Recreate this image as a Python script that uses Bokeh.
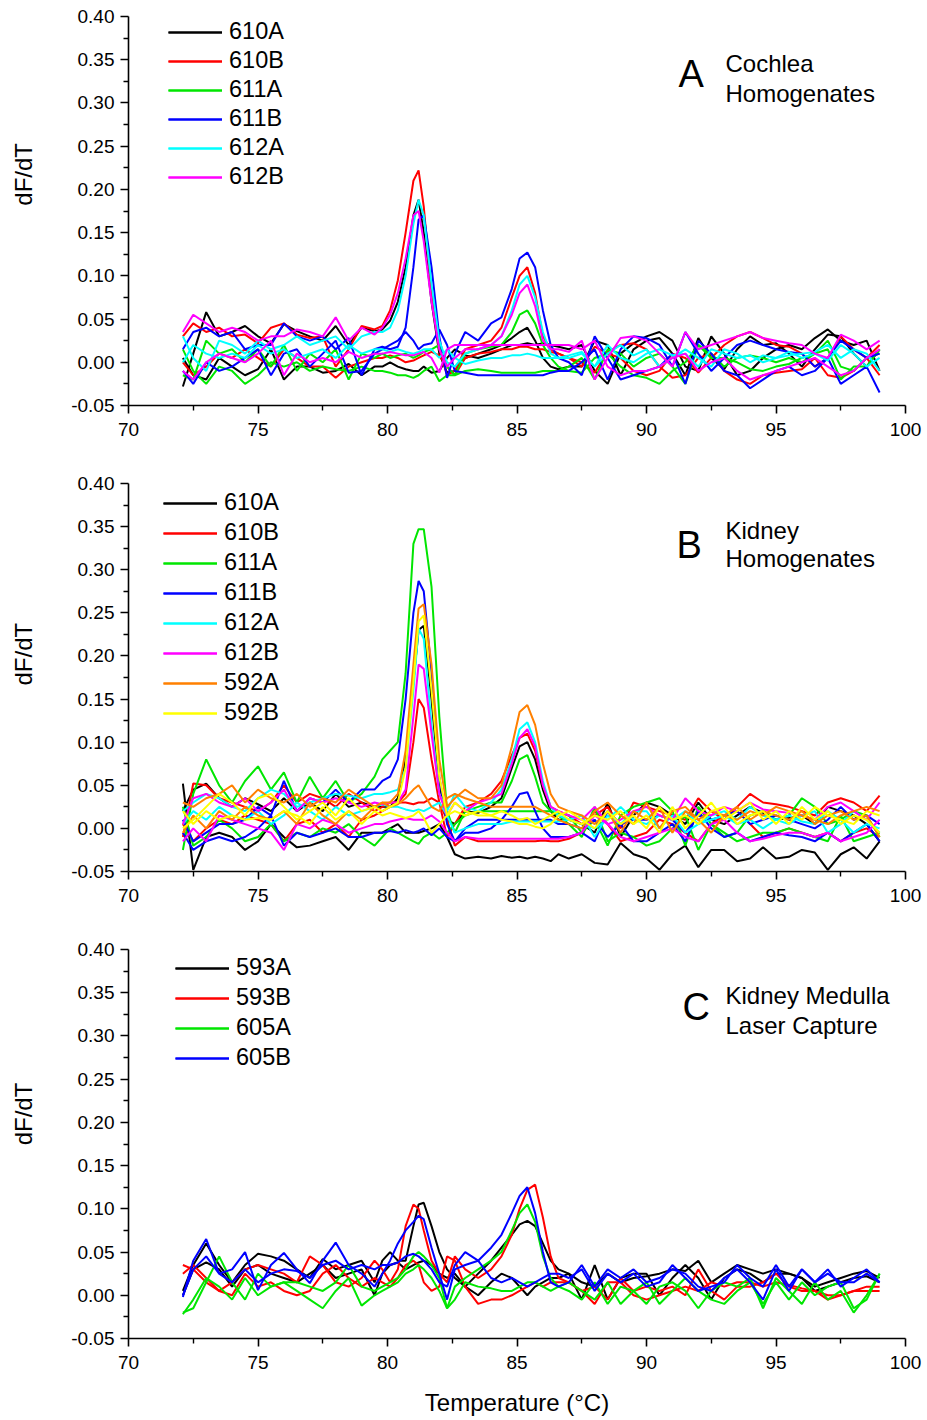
import numpy as np
from bokeh.plotting import figure
from bokeh.models import (FixedTicker, PrintfTickFormatter, Legend, LegendItem,
                          Label, Range1d)
from bokeh.layouts import column
from bokeh.embed import file_html
from bokeh.resources import INLINE

FONT = "Liberation Sans"
NBSP = "\u00a0"

# shared temperature grid (degC)
temperature = [72.1, 72.5, 73.0, 73.5, 74.0, 74.5, 75.0, 75.5, 76.0, 76.5, 77.0, 77.5, 78.0, 78.5, 79.0, 79.5,
               79.8, 80.1, 80.4, 80.7, 81.0, 81.2, 81.4, 81.7, 82.0, 82.3, 82.6, 83.0, 83.5, 84.0, 84.4, 84.8,
               85.1, 85.4, 85.7, 86.0, 86.3, 86.6, 87.0,
               87.5, 88.0, 88.5, 89.0, 89.5, 90.0, 90.5, 91.0, 91.5, 92.0, 92.5, 93.0, 93.5, 94.0, 94.5, 95.0,
               95.5, 96.0, 96.5, 97.0, 97.5, 98.0, 98.5, 99.0]

# dF/dT values, in units of 0.001
# ---------------- Panel A: cochlea homogenates ----------------
A_610A_1 = [-28, 10, 58, 30, 35, 42, 30, 22, 44, 36, 30, 25, 42, 20, 40, 36,
            38, 48, 70, 110, 170, 188, 150, 70, 10, -12, -10, 5, 10, 15, 20, 28, 35, 40, 25, 5, -5, -8, -5,
            -5, 25, 20, -15, 15, 25, 28, 10, -15, 28, 5, -8, 15, 30, 20, 22, 10, -5, 15, 32, 30, 10, -5, 15]
A_610A_2 = [5, -15, -20, 5, -5, -15, -8, 15, -20, -5, -5, -12, -10, -2, -15, -5,
            -5, 0, -5, -8, -10, -10, -5, -12, -10, 5, 15, 8, 5, 10, 15, 20, 20, 22, 20, 22, 20, 18, 15,
            20, -10, -25, 10, 22, 30, 35, 25, -5, -10, 30, 10, -15, -10, 5, 15, 20, 15, 28, 38, 25, 20, 25, -10]
A_610B_1 = [30, 45, 35, 40, 30, 32, 22, 40, 45, 32, 28, 30, -5, 15, 42, 38,
            42, 60, 95, 150, 210, 222, 180, 80, 15, -15, -10, 15, 20, 25, 40, 75, 100, 110, 80, 30, 15, 10, 5,
            -5, 18, 10, 5, -10, -15, -10, 10, 5, -12, 5, 20, 30, 35, 28, 20, 18, 10, -5, 5, 30, 15, 5, 20]
A_610B_2 = [0, -15, -5, 10, 5, 15, 5, -5, 15, 5, -5, -5, -18, -5, 0, 5,
            5, 8, 5, 0, 2, 5, 8, 12, 8, -5, -15, 5, 10, 12, 15, 15, 18, 18, 15, 15, 12, 10, 5,
            0, -12, 12, 20, 22, 15, -5, -18, -15, 5, 10, -10, -20, -25, -15, -12, -10, -8, 5, -15, -18, -10, 5, -15]
A_611A_1 = [-15, -20, 25, 10, 15, 0, 15, -5, 20, -10, 10, 0, 15, -20, 10, 5,
            10, 5, 8, 10, 5, 8, 12, 15, 20, -5, -15, 10, 15, 18, 20, 35, 55, 60, 45, 20, 5, -5, -10,
            -12, 5, 10, -5, -15, -18, -25, -10, 0, 20, 10, -5, 5, 8, 5, 0, 5, 0, 10, 25, -5, -10, 5, 10]
A_611A_2 = [15, -10, -25, -5, -10, -25, -15, 0, -5, 0, -10, -5, -8, -10, -5, -10,
            -10, -12, -15, -15, -18, -15, -10, -5, -22, -15, -15, -10, -8, -10, -12, -12, -12, -12, -12, -10, -10, -10, -5,
            5, -20, 15, 10, -5, 5, 10, -5, -25, 20, 5, 5, 0, -8, -10, -5, -2, 5, 10, 15, -20, -5, -5, 15]
A_611B_1 = [15, 35, 40, 30, 35, 15, 20, 20, 45, 30, 25, 30, 15, 28, -15, 15,
            18, 15, 18, 40, 110, 165, 170, 110, 30, -18, 10, 35, 25, 45, 52, 85, 120, 127, 110, 60, 20, 5, 0,
            -15, 30, 5, -20, -15, -10, -5, 10, -25, 25, 10, -10, -15, -30, -20, -10, -5, -15, -10, 5, -25, -15, -5, -35]
A_611B_2 = [-10, -25, 0, -10, -5, 5, 15, -15, 10, 15, -5, 10, 25, -12, -10, 10,
            15, 20, 25, 35, 25, 15, 20, 22, 38, 20, -10, -12, -15, -15, -15, -15, -15, -15, -15, -15, -12, -10, -10,
            0, 15, -20, 15, 30, 28, 20, -5, 35, 10, -10, 5, 20, 25, 20, 15, 12, 10, -5, 5, 25, 15, 5, 10]
A_612A_1 = [30, 5, -10, 25, 20, 10, 25, 15, 20, 30, 20, 25, 30, 15, 30, 35,
            35, 40, 60, 100, 160, 188, 170, 90, 25, 0, -5, 10, 15, 20, 30, 60, 90, 100, 75, 35, 10, 5, 5,
            10, -5, 20, 5, 0, 10, 15, 8, 10, -5, 15, 10, 5, 8, 0, 5, 8, 10, 12, 20, 5, 15, 10, -10]
A_612A_2 = [0, 20, 10, 5, 10, 5, 20, 10, 15, 5, 10, 15, 5, 20, 10, 15,
            15, 12, 15, 12, 10, 12, 15, 15, 5, 15, 5, -2, 2, 5, 5, 8, 8, 10, 8, 5, 5, 5, 8,
            12, -5, 10, 20, 8, 15, -5, 5, 15, 5, -5, 15, 10, 0, 8, 5, 12, 5, 10, 2, 20, 10, -5, 5]
A_612B_1 = [35, 55, 45, 35, 40, 35, 25, 30, 30, 38, 35, 30, 52, 25, 40, 32,
            40, 55, 80, 120, 170, 175, 140, 70, 15, -5, 5, 15, 15, 20, 30, 55, 80, 90, 65, 25, 15, 15, 12,
            25, -20, 5, 28, 30, 25, 10, -5, 35, 15, 20, 25, 30, 35, 28, 25, 22, 20, 10, 5, 32, 25, 15, 25]
A_612B_2 = [-10, -20, 0, 10, 5, 0, 10, 25, -15, 10, 0, 5, 0, 12, 5, 10,
            10, 12, 10, 8, 8, 10, 12, 5, -12, 15, 20, 20, 20, 20, 20, 20, 20, 20, 20, 20, 20, 20, 20,
            15, 25, -5, -15, -10, -10, -5, 5, 10, -10, 0, 5, -10, -20, -15, -10, -5, 0, 5, -5, -15, -10, 5, 15]

# ---------------- Panel B: kidney homogenates ----------------
B_610A_1 = [20, 45, 52, 35, 25, 35, 28, 20, 35, 20, 30, 20, 40, 25, 30, 25,
            25, 25, 35, 80, 170, 230, 235, 150, 50, 10, 5, 20, 18, 25, 35, 70, 95, 100, 80, 45, 20, 10, 10,
            5, -5, 30, -10, 15, 30, 25, 15, 5, 30, 10, 5, 15, 25, 18, 10, 12, 15, 5, 25, 20, 15, 5, -15]
B_610A_2 = [52, -48, -10, -5, -10, -25, -15, 5, -10, -22, -20, -15, -10, -25, -5, -5,
            -5, 0, 5, -5, -5, -5, -3, 0, 5, -10, -30, -35, -33, -35, -32, -34, -33, -35, -33, -35, -38, -30, -35,
            -30, -40, -42, -17, -30, -35, -48, -30, -20, -45, -25, -25, -38, -35, -22, -35, -33, -25, -28, -48, -30, -22, -35, -15]
B_610B_1 = [-10, 52, 50, 35, 30, 25, 20, 30, 50, 30, 40, 35, 25, 40, 30, 20,
            25, 30, 30, 40, 100, 150, 140, 80, 30, -10, 5, 25, 30, 40, 55, 85, 105, 110, 90, 50, 25, 20, 15,
            5, 15, 25, 0, 30, 25, 20, 15, 10, 35, 20, 10, 25, 40, 30, 28, 25, 20, 15, 30, 35, 30, 20, 38]
B_610B_2 = [5, -15, 0, 10, 5, 15, 10, 5, -15, 5, 10, -5, 5, -10, 10, 15,
            20, 25, 30, 30, 28, 30, 30, 35, 30, 10, -20, -10, -15, -15, -15, -15, -15, -15, -15, -14, -15, -15, -12,
            -5, 20, 5, -15, -10, -5, 10, 5, -5, -15, 5, 15, 20, 5, -10, -5, 0, -5, -10, -5, -15, -5, 0, -10]
B_611A_1 = [-25, 40, 80, 50, 30, 55, 72, 45, 65, 30, 60, 35, 55, 30, 40, 60,
            80, 90, 100, 180, 330, 347, 347, 280, 130, 20, -5, 20, 25, 30, 30, 55, 80, 85, 60, 30, 20, 18, 15,
            -5, 10, -20, 15, 25, 30, 35, 20, -20, 25, 5, -10, -5, 15, 20, 10, 15, 35, 25, 5, 10, 20, 15, -10]
B_611A_2 = [25, -20, -10, 10, 0, -15, -10, 5, -15, -5, -10, 0, -5, 5, -10, -20,
            -10, 0, -5, -10, -15, -18, -10, -5, -12, -5, 5, 15, 20, 20, 20, 20, 20, 20, 20, 20, 20, 15, 5,
            -10, 25, -15, -5, -10, -20, -15, 0, 15, -25, 5, -5, -15, -10, -5, -5, 0, -5, -10, -15, 15, -15, -10, -5]
B_611B_1 = [10, -15, -5, 5, 5, 10, 25, 15, 55, 20, 35, 30, 45, 30, 45, 45,
            55, 60, 80, 150, 250, 287, 275, 180, 60, 5, -15, -5, -5, 0, 10, 25, 40, 42, 20, 0, -10, -10, -10,
            -5, -15, 20, 5, -15, -15, -5, 5, -15, 20, 0, -10, -5, -15, -10, -5, -8, -10, -15, -5, -15, -5, 5, -15]
B_611B_2 = [-5, -25, -15, -10, -15, -10, 0, 15, -20, -5, -10, -5, 0, -10, -10, -5,
            -5, -3, -5, -2, -5, -3, 0, -8, 0, -10, -15, 0, 10, 10, 10, 10, 10, 10, 10, 10, 10, 5, 5,
            0, 10, -10, 5, 10, 10, 15, 10, -5, 15, 10, 15, 20, 5, 10, 15, 10, 5, 0, 10, 25, 10, 15, 5]
B_612A_1 = [20, 30, 40, 35, 25, 20, 35, 45, 40, 25, 30, 35, 40, 38, 35, 40,
            40, 42, 45, 70, 160, 232, 220, 120, 40, 20, 40, 25, 20, 30, 45, 80, 115, 123, 100, 55, 25, 15, 10,
            5, 0, 10, 25, 10, 5, 15, 10, 20, 5, 10, 15, 5, 10, 0, 10, 15, 8, 5, 20, 10, -5, 5, 0]
B_612A_2 = [5, 20, 10, 25, 15, 10, 20, 5, 15, 30, 20, 10, 25, 15, 20, 25,
            28, 25, 25, 22, 20, 22, 20, 25, 30, 15, -5, 0, 5, 5, 5, 8, 8, 8, 8, 8, 8, 8, 10,
            15, -10, 15, 5, 20, 20, 0, 15, -5, 5, 15, 20, 10, 25, 15, 10, 5, 15, 20, -5, 5, 20, 10, -5]
B_612B_1 = [5, 35, 40, 30, 25, 35, 20, 30, 45, 20, 35, 30, 35, 30, 25, 30,
            28, 30, 30, 45, 130, 190, 185, 110, 40, 15, 30, 20, 30, 35, 40, 75, 105, 115, 95, 50, 25, 20, 15,
            10, 25, 5, 10, 20, 25, 15, 10, 35, 20, 15, 25, 20, 30, 22, 20, 18, 15, 10, 25, 30, 20, 10, 30]
B_612B_2 = [-15, 0, -15, 15, 10, 5, 0, -5, -25, 5, 0, 10, 5, -5, 0, 5,
            5, 8, 10, 12, 10, 10, 10, 15, 8, -5, -15, -10, -12, -12, -12, -12, -12, -12, -12, -12, -12, -12, -10,
            -5, 15, 5, -10, -15, -10, -5, 0, -10, -15, 5, 10, -5, -15, -12, -8, -5, -5, -10, -5, -15, -10, -5, 10]
B_592A_1 = [30, 25, 35, 40, 50, 30, 45, 35, 30, 40, 25, 35, 30, 45, 35, 25,
            30, 30, 40, 90, 190, 255, 260, 190, 80, 25, 35, 45, 35, 35, 50, 95, 135, 143, 120, 75, 40, 25, 20,
            15, 5, 20, -5, 20, 10, 25, -5, 20, 10, -5, 15, 25, 10, 20, 15, 10, 20, 5, 15, 20, 10, 15, -10]
B_592A_2 = [-5, 15, 0, 20, 10, 25, 15, 10, 20, 5, 30, 15, 5, 20, 10, 25,
            30, 25, 28, 35, 45, 50, 40, 25, 20, 35, 40, 35, 30, 25, 25, 25, 25, 25, 25, 20, 15, 10, 5,
            0, 20, 30, 15, 5, 30, 0, 20, 25, 10, 20, 15, 10, 20, 15, 25, 20, 15, 10, 5, 15, 20, 25, 20]
B_592B_1 = [0, 10, 25, 40, 30, 15, 35, 40, 25, 10, 20, 30, 15, 35, 20, 25,
            20, 25, 30, 70, 170, 240, 247, 160, 60, 15, 20, 15, 20, 15, 20, 15, 10, 12, 5, 10, 15, 20, 10,
            5, 15, 10, 20, 5, 15, -5, 25, 0, 15, 30, 10, 20, 30, 10, 20, 5, 25, 10, 20, 5, 15, 10, -5]
B_592B_2 = [20, 5, 20, 10, 15, 10, 12, 10, 20, 15, 5, 25, 10, 20, 5, 20,
            15, 18, 15, 12, 15, 20, 12, -5, 5, 15, 30, 20, 15, 15, 10, 8, 5, 5, 2, 0, 5, 15, 20,
            10, 0, 20, 5, 15, 0, 25, 10, 15, 5, 20, 25, 5, 15, 20, 5, 20, 10, 25, 15, 10, 5, 20, 15]

# ---------------- Panel C: kidney medulla laser capture ----------------
C_593A_1 = [5, 35, 60, 35, 15, 35, 48, 45, 40, 30, 20, 42, 30, 35, 40, 15,
            40, 50, 40, 40, 80, 105, 107, 80, 50, 30, 20, 10, 25, 40, 55, 70, 82, 86, 80, 60, 40, 30, 25,
            15, 10, 25, 15, 20, 22, 25, 30, 28, 40, 15, 25, 35, 30, 25, 30, 25, 20, 10, 15, 20, 25, 28, 20]
C_593A_2 = [0, 30, 38, 30, 10, 30, 35, 25, 20, 15, 25, 35, 20, 25, 30, 0,
            25, 35, 38, 30, 35, 38, 40, 35, 25, 20, 25, 10, 0, 15, 25, 20, 10, 0, 10, 15, 20, 20, 25,
            -5, 35, -5, 20, 25, 25, 0, 20, 35, 20, -5, 20, 30, 25, 15, 25, 25, 20, 5, 10, 15, 20, 22, 15]
C_593B_1 = [25, 35, 20, 5, 15, 30, 35, 30, 25, 15, 45, 35, 15, 10, 20, 40,
            30, 15, 30, 80, 105, 100, 75, 40, 25, 15, 45, 30, 20, 30, 45, 70, 100, 122, 128, 90, 45, 20, 15,
            5, 10, -5, 20, 5, 10, 5, 10, 0, 30, 5, -5, 10, 10, 15, 25, 10, 5, 5, -5, 0, 5, 5, 5]
C_593B_2 = [35, 30, 15, 5, 0, 25, 10, 15, 5, 0, 5, 25, 35, 20, 10, 20,
            15, 10, 20, 35, 40, 35, 15, 5, 10, 45, 40, 10, -10, -5, -5, 0, 5, 10, 15, 10, 15, 15, 15,
            5, -10, 15, 15, 0, -5, 0, 5, 10, 5, 15, 10, 15, 15, 10, 15, 12, 8, 5, 0, 0, 5, 10, 10]
C_605A_1 = [-20, -15, 15, 45, 15, -5, 25, 10, 15, 15, 10, 5, 15, 35, 10, 5,
            10, 15, 20, 30, 45, 50, 45, 35, 20, -15, 10, 20, 30, 40, 50, 75, 95, 105, 85, 45, 20, 10, 5,
            -5, 15, -10, 10, 5, -10, 10, 15, 5, -15, 5, 15, 10, 20, -15, 20, 5, -10, 15, -5, 5, -20, 0, 25]
C_605A_2 = [-22, -5, 20, 10, -5, 20, 0, 10, 15, 5, -5, -15, 5, 20, -12, 0,
            5, 10, 15, 25, 30, 35, 30, 20, 5, -15, -5, 15, 10, 8, 5, 5, 10, 15, 15, 10, 5, 10, 15,
            5, -5, 15, -10, 5, 15, -10, 5, 20, 5, -5, -10, 5, 15, -10, 15, -5, 15, 0, 10, 15, -15, -5, 25]
C_605B_1 = [-2, 40, 65, 25, 30, 50, 6, 35, 49, 30, 14, 40, 61, 35, 25, 10,
            25, 40, 60, 75, 85, 92, 88, 55, 25, -5, 30, 35, 40, 55, 70, 95, 115, 125, 95, 50, 15, 10, 15,
            35, 10, 30, 20, 30, 15, 20, 30, 25, 10, 5, 20, 30, 15, -5, 30, 5, 30, 15, 30, 10, 20, 30, 15]
C_605B_2 = [0, 30, 45, 25, 15, 30, 15, 25, 30, 28, 20, 35, 40, 30, 35, 30,
            35, 35, 38, 45, 48, 45, 40, 30, 15, 10, 35, 50, 40, 20, 15, 20, 15, 10, 15, 20, 25, 25, 20,
            30, 5, 25, 15, 25, 10, 15, 35, 20, 5, 10, 15, 35, 20, 10, 35, 10, 30, 15, 25, 15, 15, 25, 15]

x_ticks = [70, 75, 80, 85, 90, 95, 100]
x_minor = [72.5, 77.5, 82.5, 87.5, 92.5, 97.5]
y_ticks = [-0.05, 0.0, 0.05, 0.10, 0.15, 0.20, 0.25, 0.30, 0.35, 0.40]
y_minor = [-0.025, 0.025, 0.075, 0.125, 0.175, 0.225, 0.275, 0.325, 0.375]

BLACK, RED, GREEN, BLUE = "#000000", "#FF0000", "#00E600", "#0000FF"
CYAN, MAGENTA, ORANGE, YELLOW = "#00FFFF", "#FF00FF", "#FF8000", "#FFFF00"

panel_a = [("610A", BLACK, A_610A_1, A_610A_2), ("610B", RED, A_610B_1, A_610B_2),
           ("611A", GREEN, A_611A_1, A_611A_2), ("611B", BLUE, A_611B_1, A_611B_2),
           ("612A", CYAN, A_612A_1, A_612A_2), ("612B", MAGENTA, A_612B_1, A_612B_2)]
panel_b = [("610A", BLACK, B_610A_1, B_610A_2), ("610B", RED, B_610B_1, B_610B_2),
           ("611A", GREEN, B_611A_1, B_611A_2), ("611B", BLUE, B_611B_1, B_611B_2),
           ("612A", CYAN, B_612A_1, B_612A_2), ("612B", MAGENTA, B_612B_1, B_612B_2),
           ("592A", ORANGE, B_592A_1, B_592A_2), ("592B", YELLOW, B_592B_1, B_592B_2)]
panel_c = [("593A", BLACK, C_593A_1, C_593A_2), ("593B", RED, C_593B_1, C_593B_2),
           ("605A", GREEN, C_605A_1, C_605A_2), ("605B", BLUE, C_605B_1, C_605B_2)]


def make_panel(series, height, border_top, border_bottom, legend_loc, legend_spacing,
               letter, letter_xy, lines, ylabel_pad, xlabel=None):
    p = figure(width=927, height=height, output_backend="svg", toolbar_location=None,
               x_range=Range1d(70, 100), y_range=Range1d(-0.05, 0.40),
               min_border_left=128, min_border_right=22, min_border_top=border_top,
               min_border_bottom=border_bottom)
    p.xgrid.visible = False
    p.ygrid.visible = False
    p.outline_line_color = None
    p.background_fill_color = "white"

    for ax in (p.xaxis[0], p.yaxis[0]):
        ax.axis_line_width = 1.6
        ax.axis_line_color = "black"
        ax.major_tick_line_width = 1.6
        ax.minor_tick_line_width = 1.4
        ax.major_tick_line_color = "black"
        ax.minor_tick_line_color = "black"
        ax.major_tick_out = 8
        ax.major_tick_in = 0
        ax.minor_tick_out = 5
        ax.minor_tick_in = 0
        ax.major_label_text_font = FONT
        ax.major_label_text_font_size = "19px"
        ax.major_label_text_color = "black"
    p.xaxis.ticker = FixedTicker(ticks=x_ticks, minor_ticks=x_minor)
    p.yaxis.ticker = FixedTicker(ticks=y_ticks, minor_ticks=y_minor)
    p.yaxis.formatter = PrintfTickFormatter(format="%.2f")
    p.xaxis.major_label_standoff = 9
    p.yaxis.major_label_standoff = 6

    # y-axis title, nudged upward (as in the reference) with leading no-break spaces
    p.yaxis.axis_label = NBSP * ylabel_pad + "dF/dT"
    p.yaxis.axis_label_text_font = FONT
    p.yaxis.axis_label_text_font_size = "24px"
    p.yaxis.axis_label_text_font_style = "normal"
    p.yaxis.axis_label_text_color = "black"
    p.yaxis.axis_label_standoff = 31

    if xlabel:
        p.xaxis.axis_label = xlabel
        p.xaxis.axis_label_text_font = FONT
        p.xaxis.axis_label_text_font_size = "24px"
        p.xaxis.axis_label_text_font_style = "normal"
        p.xaxis.axis_label_text_color = "black"
        p.xaxis.axis_label_standoff = 17

    items = []
    for name, color, v1, v2 in series:
        r1 = p.line(temperature, np.array(v1) / 1000.0, line_color=color, line_width=2)
        r2 = p.line(temperature, np.array(v2) / 1000.0, line_color=color, line_width=2)
        items.append(LegendItem(label=name, renderers=[r1, r2]))

    legend = Legend(items=items, location=legend_loc, border_line_color=None,
                    background_fill_alpha=0, padding=0, margin=0, spacing=legend_spacing,
                    glyph_width=54, glyph_height=24, label_height=24, label_standoff=7,
                    label_text_font=FONT, label_text_font_size="23.5px",
                    label_text_color="black")
    p.add_layout(legend)

    p.add_layout(Label(x=letter_xy[0], y=letter_xy[1], text=letter, text_font=FONT,
                       text_font_size="38px", text_color="black",
                       text_baseline="alphabetic", text_align="left"))
    for (tx, ty, t) in lines:
        p.add_layout(Label(x=tx, y=ty, text=t, text_font=FONT, text_font_size="24px",
                           text_color="black", text_baseline="alphabetic", text_align="left"))
    return p


pa = make_panel(panel_a, 472, 16, 67, (40, 215), 2, "A", (91.24, 0.333),
                [(93.05, 0.346, "Cochlea"), (93.05, 0.3114, "Homogenates")], 11)
pb = make_panel(panel_b, 466, 11, 67, (35, 145), 3, "B", (91.16, 0.329),
                [(93.05, 0.3456, "Kidney"), (93.05, 0.3132, "Homogenates")], 7)
pc = make_panel(panel_c, 482, 11, 82, (47, 267), 3, "C", (91.39, 0.3336),
                [(93.05, 0.3466, "Kidney Medulla"), (93.05, 0.312, "Laser Capture")], 9,
                xlabel="Temperature (\u00b0C)")

layout = column(pa, pb, pc, spacing=0)
open("out.html", "w").write(file_html(layout, INLINE))
